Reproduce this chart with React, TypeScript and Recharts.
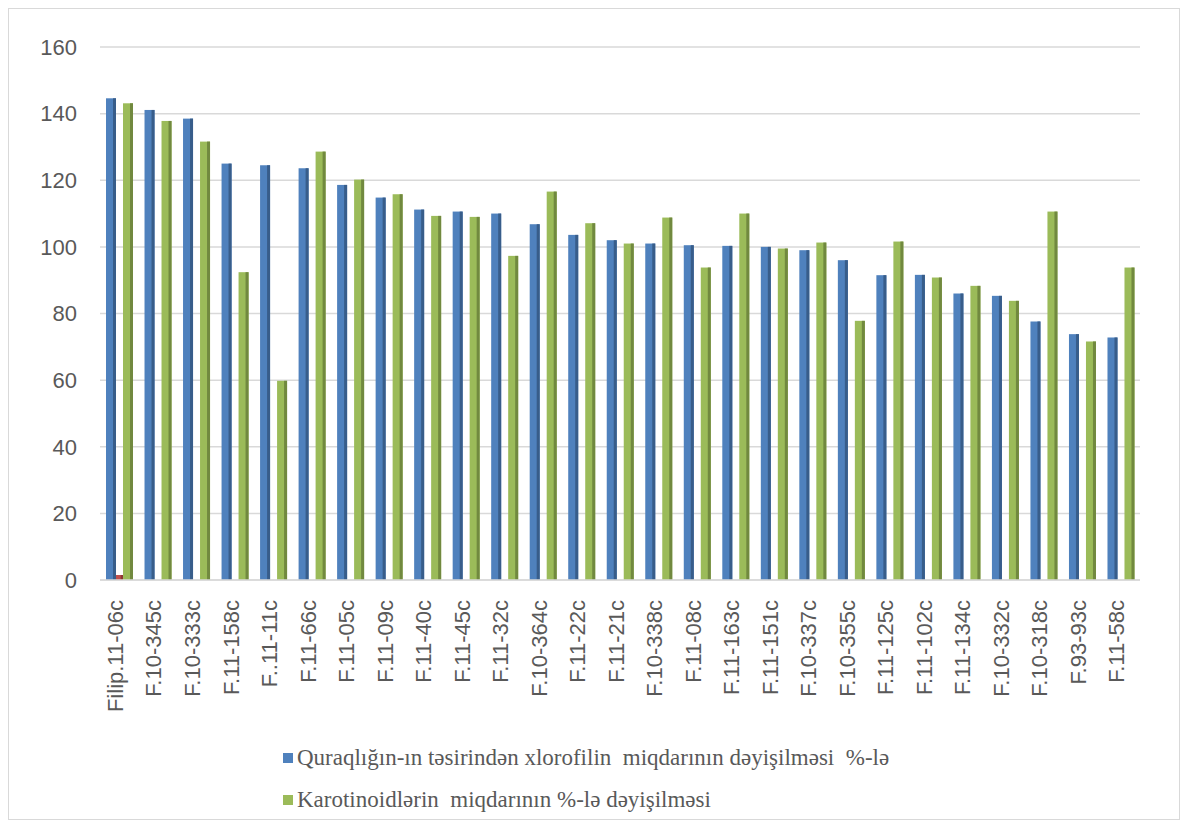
import React from 'react';
import { Bar, BarChart, CartesianGrid, Legend, XAxis, YAxis } from 'recharts';

const categories = [
  'Filip.11-06c', 'F.10-345c', 'F.10-333c', 'F.11-158c', 'F..11-11c', 'F.11-66c', 'F.11-05c',
  'F.11-09c', 'F.11-40c', 'F.11-45c', 'F.11-32c', 'F.10-364c', 'F.11-22c', 'F.11-21c',
  'F.10-338c', 'F.11-08c', 'F.11-163c', 'F.11-151c', 'F.10-337c', 'F.10-355c', 'F.11-125c',
  'F.11-102c', 'F.11-134c', 'F.10-332c', 'F.10-318c', 'F.93-93c', 'F.11-58c',
];

const chlorophyll = [
  144.6, 141.1, 138.5, 125.0, 124.5, 123.6, 118.6, 114.8, 111.2, 110.6, 110.0, 106.8, 103.6, 102.0,
  101.0, 100.5, 100.3, 100.0, 99.0, 96.0, 91.5, 91.6, 86.0, 85.3, 77.6, 73.8, 72.8,
];

const carotenoids = [
  143.1, 137.8, 131.6, 92.4, 59.8, 128.6, 120.2, 115.8, 109.3, 109.0, 97.3, 116.6, 107.1, 101.0,
  108.8, 93.8, 110.0, 99.5, 101.3, 77.8, 101.6, 90.8, 88.3, 83.8, 110.6, 71.6, 93.8,
];

// small red stub only on the first cultivar
const extra = [1.5];

const yTicks = [0, 20, 40, 60, 80, 100, 120, 140, 160];

const legendItems = [
  { label: 'Quraqlığın-ın təsirindən xlorofilin  miqdarının dəyişilməsi  %-lə', color: '#4f81bd' },
  { label: 'Karotinoidlərin  miqdarının %-lə dəyişilməsi', color: '#9bbb59' },
];

const data = categories.map((name, i) => ({
  name,
  chlorophyll: chlorophyll[i],
  carotenoids: carotenoids[i],
  extra: extra[i] ?? null,
}));

const makeShape = (face: string, side: string) => (props: any) => {
  const { x, y, width, height } = props;
  if (!height || height <= 0) return <g />;
  const s = Math.min(3, width / 3);
  return (
    <g>
      <rect x={x} y={y} width={width} height={height} fill={face} />
      <rect x={x + width - s} y={y} width={s} height={height} fill={side} />
    </g>
  );
};

const XTick = ({ x, y, payload }: any) => (
  <text
    x={x - 4}
    y={y + 12}
    transform={`rotate(-90, ${x - 4}, ${y + 12})`}
    textAnchor="end"
    dy="0.35em"
    fontSize={22}
    fill="#595959"
    fontFamily="'Liberation Sans', Arial, sans-serif"
  >
    {payload.value}
  </text>
);

const serif = "'Liberation Serif', 'DejaVu Serif', serif";

const LegendBox = () => (
  <div style={{ fontFamily: serif, fontSize: 23, color: '#595959' }}>
    {legendItems.map((item) => (
      <div key={item.label} style={{ display: 'flex', alignItems: 'center', height: 42, whiteSpace: 'pre', fontFamily: serif }}>
        <span style={{ display: 'inline-block', width: 10, height: 10, background: item.color, marginRight: 4 }} />
        <span style={{ fontFamily: serif }}>{item.label}</span>
      </div>
    ))}
  </div>
);

export default function App() {
  return (
    <div style={{ width: 1172, height: 812, border: '1px solid #d9d9d9', boxSizing: 'border-box', background: '#fff' }}>
      <BarChart
        width={1170}
        height={810}
        data={data}
        margin={{ top: 38, right: 39, left: 31, bottom: 89 }}
        barGap={0}
      >
        <CartesianGrid vertical={false} stroke="#d9d9d9" strokeWidth={1.5} />
        <XAxis
          dataKey="name"
          interval={0}
          height={150}
          tickLine={false}
          axisLine={{ stroke: '#d9d9d9', strokeWidth: 1.5 }}
          tick={<XTick />}
        />
        <YAxis
          width={60}
          domain={[0, 160]}
          ticks={yTicks}
          axisLine={false}
          tickLine={false}
          tickMargin={17}
          tick={{ fontSize: 22, fill: '#595959', fontFamily: "'Liberation Sans', Arial, sans-serif" }}
        />
        <Legend
          layout="horizontal"
          align="center"
          verticalAlign="middle"
          wrapperStyle={{ top: 728, left: 274, width: 800 }}
          content={<LegendBox />}
        />
        <Bar dataKey="chlorophyll" barSize={10} shape={makeShape('#4f81bd', '#385d8a')} isAnimationActive={false} />
        <Bar dataKey="extra" barSize={7} shape={makeShape('#c0504d', '#8c3836')} isAnimationActive={false} legendType="none" />
        <Bar dataKey="carotenoids" barSize={10} shape={makeShape('#9bbb59', '#71893f')} isAnimationActive={false} />
      </BarChart>
    </div>
  );
}
